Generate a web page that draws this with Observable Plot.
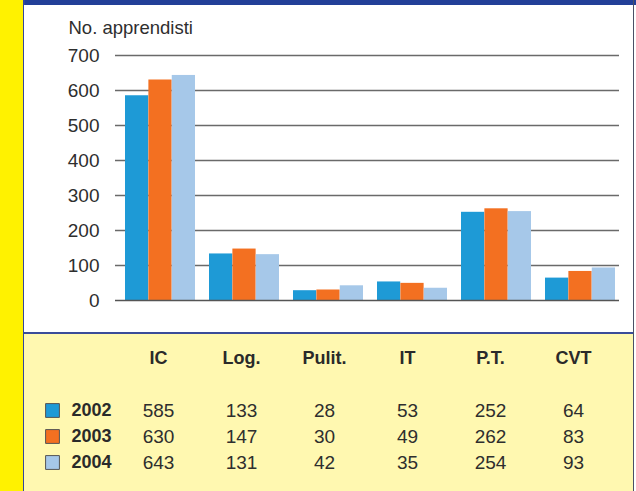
<!DOCTYPE html>
<html>
<head>
<meta charset="utf-8">
<script src="https://cdn.jsdelivr.net/npm/d3@7"></script>
<script src="https://cdn.jsdelivr.net/npm/@observablehq/plot@0.6"></script>
<style>
  body { margin: 0; background: #fff; }
  #page { position: relative; width: 636px; height: 491px; overflow: hidden; font-family: "Liberation Sans", Arial, Helvetica, sans-serif; }
  #strip { position: absolute; left: 0; top: 0; width: 23px; height: 491px; background: #fff200; }
  #vline { position: absolute; left: 23px; top: 0; width: 2px; height: 491px; background: #34479a; }
  #topbar { position: absolute; left: 25px; top: 0; width: 611px; height: 5px; background: #223f98; }
  #chart { position: absolute; left: 24px; top: 5px; width: 610px; height: 327px; background: #fff; }
  #sep { position: absolute; left: 25px; top: 332px; width: 609px; height: 2px; background: #3a4c99; }
  #table { position: absolute; left: 24px; top: 334px; width: 610px; height: 157px; background: #fff8b0; }
  #rline { position: absolute; left: 633px; top: 0; width: 1px; height: 491px; background: #4a5066; }
  #chart svg, #table svg { display: block; }
</style>
</head>
<body>
<div id="page">
  <div id="strip"></div>
  <div id="vline"></div>
  <div id="topbar"></div>
  <div id="chart"></div>
  <div id="sep"></div>
  <div id="table"></div>
  <div id="rline"></div>
</div>
<script>
const categories = ["IC", "Log.", "Pulit.", "IT", "P.T.", "CVT"];
const years = ["2002", "2003", "2004"];
const values2002 = [585, 133, 28, 53, 252, 64];
const values2003 = [630, 147, 30, 49, 262, 83];
const values2004 = [643, 131, 42, 35, 254, 93];
const yTicks = [0, 100, 200, 300, 400, 500, 600, 700];
const yLabel = "No. apprendisti";
const colors = ["#1e9ad6", "#f37021", "#a6c8e9"];

const series = [values2002, values2003, values2004];
const rows = years.flatMap((yr, j) => categories.map((c, i) => ({cat: c, year: yr, value: series[j][i]})));

const W = 610, ML = 95, MR = 13;
const pIn = 0.165, pOut = 0.07;
const band = d3.scaleBand().domain(categories).range([ML, W - MR]).paddingInner(pIn).paddingOuter(pOut);
const sub = band.bandwidth() / years.length;
const font = '"Liberation Sans", Arial, Helvetica, sans-serif';

const chart = Plot.plot({
  width: W, height: 327,
  marginLeft: ML, marginRight: MR, marginTop: 50, marginBottom: 32,
  style: {fontFamily: font, fontSize: "19px", color: "#2e2e2e", background: "transparent", overflow: "visible"},
  x: {domain: categories, paddingInner: pIn, paddingOuter: pOut, axis: null},
  y: {domain: [0, 700], axis: null},
  color: {domain: years, range: colors},
  marks: [
    Plot.ruleY(yTicks.filter(d => d > 0), {y: d => d, stroke: "#6a6a6a", strokeWidth: 1.3, insetLeft: -4, insetRight: 2}),
    ...years.map((yr, j) => Plot.barY(rows.filter(r => r.year === yr), {
      x: "cat", y: "value", fill: "year",
      insetLeft: j * sub, insetRight: (years.length - 1 - j) * sub
    })),
    Plot.ruleY([0], {stroke: "#555", strokeWidth: 1.6, insetLeft: -4, insetRight: 2}),
    Plot.axisY(yTicks, {tickSize: 0, tickPadding: 20, label: null, fontSize: 19, fill: "#2e2e2e"}),
    Plot.text([yLabel], {text: d => d, frameAnchor: "top-left", textAnchor: "start", dx: -51, dy: -22, lineAnchor: "bottom", fontSize: 18.5, fill: "#2e2e2e"})
  ]
});
document.getElementById("chart").appendChild(chart);

const table = Plot.plot({
  width: W, height: 157,
  marginLeft: ML, marginRight: MR, marginTop: 22, marginBottom: 28,
  style: {fontFamily: font, fontSize: "19px", color: "#2a2a2a", background: "transparent", overflow: "visible"},
  x: {domain: categories, paddingInner: pIn, paddingOuter: pOut, axis: null},
  y: {type: "point", domain: ["head", "gap", ...years], padding: 0, axis: null},
  color: {domain: years, range: colors},
  marks: [
    Plot.text(categories, {x: d => d, y: () => "head", text: d => d, dx: -5, fontWeight: "bold", fontSize: 18, fill: "#2a2a2a"}),
    Plot.text(rows, {x: "cat", y: "year", text: d => String(d.value), dx: -5, fontSize: 19, fill: "#2e2e2e"}),
    Plot.dot(years, {y: d => d, frameAnchor: "left", dx: -67, symbol: "square", r: 7.8, fill: d => d, stroke: "#555", strokeWidth: 1}),
    Plot.text(years, {y: d => d, text: d => d, frameAnchor: "left", dx: -48, textAnchor: "start", fontWeight: "bold", fontSize: 18, fill: "#2a2a2a"})
  ]
});
document.getElementById("table").appendChild(table);
</script>
</body>
</html>
